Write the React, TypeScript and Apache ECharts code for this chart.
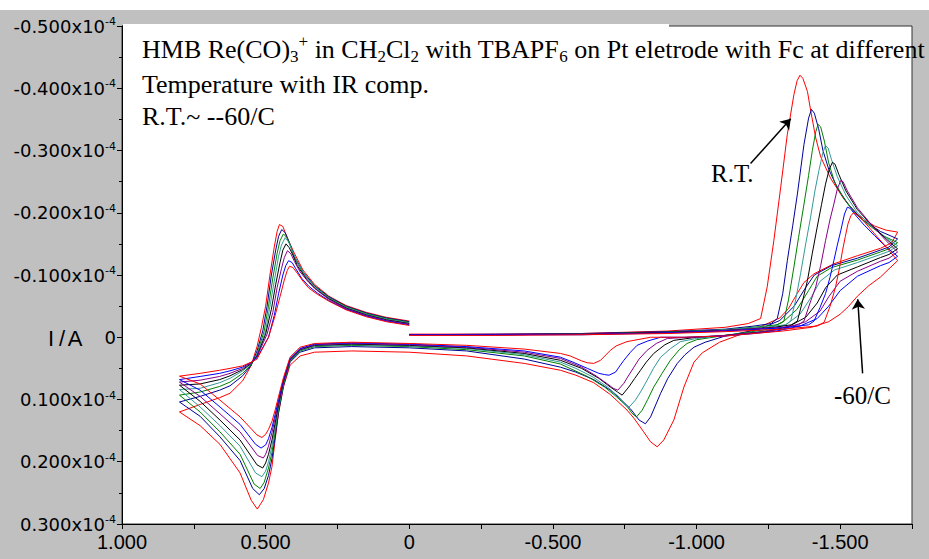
import React, { useEffect, useRef } from 'react';
import * as echarts from 'echarts';

type P = [number, number];

const curveNames = ['R.T.', 'T2', 'T3', 'T4', 'T5', 'T6', 'T7', '-60/C'];
const curveColors = ['#ff0000', '#000099', '#008000', '#339999', '#000000', '#880088', '#0000ff', '#ff0000'];

const xTickLabels: Record<string, string> = { '1': '1.000', '0.5': '0.500', '0': '0', '-0.5': '-0.500', '-1': '-1.000', '-1.5': '-1.500' };

const curveRT: P[] = [
  [0, -0.005], [-0.3, -0.005], [-0.6, -0.006], [-0.9, -0.01], [-1.1, -0.016], [-1.18, -0.022], [-1.223, -0.03], [-1.246, -0.081], [-1.269, -0.155], [-1.293, -0.241], [-1.316, -0.326], [-1.339, -0.39], [-1.35, -0.412], [-1.36, -0.421], [-1.37, -0.416], [-1.386, -0.395], [-1.397, -0.365], [-1.415, -0.32], [-1.432, -0.29], [-1.467, -0.255], [-1.513, -0.222], [-1.56, -0.197], [-1.618, -0.179], [-1.66, -0.172], [-1.7, -0.169],
  [-1.68, -0.152], [-1.641, -0.143], [-1.56, -0.131], [-1.478, -0.118], [-1.409, -0.102], [-1.374, -0.088], [-1.35, -0.07], [-1.32, -0.046], [-1.29, -0.031], [-1.223, -0.017], [-1.15, -0.004], [-1.08, 0.008], [-1.02, 0.025], [-0.991, 0.04], [-0.956, 0.08], [-0.921, 0.133], [-0.886, 0.165], [-0.863, 0.176], [-0.84, 0.168], [-0.816, 0.152], [-0.782, 0.13], [-0.758, 0.117], [-0.7, 0.092], [-0.642, 0.073], [-0.58, 0.061], [-0.526, 0.053], [-0.4, 0.042], [-0.2, 0.03], [0, 0.024], [0.2, 0.022], [0.33, 0.024], [0.38, 0.03], [0.415, 0.045], [0.438, 0.08], [0.455, 0.122], [0.467, 0.165], [0.478, 0.208], [0.49, 0.234], [0.508, 0.261], [0.529, 0.276], [0.55, 0.262], [0.589, 0.218], [0.659, 0.172], [0.728, 0.142], [0.8, 0.12],
  [0.728, 0.108], [0.66, 0.097], [0.624, 0.09], [0.58, 0.07], [0.55, 0.045], [0.53, 0.015], [0.515, -0.015], [0.5, -0.05], [0.485, -0.1], [0.47, -0.145], [0.46, -0.17], [0.452, -0.181], [0.44, -0.178], [0.425, -0.16], [0.4, -0.135], [0.37, -0.108], [0.33, -0.085], [0.28, -0.066], [0.22, -0.051], [0.15, -0.04], [0.08, -0.032], [0, -0.026],
];

const curveNavy: P[] = [
  [0, -0.004], [-0.3, -0.005], [-0.6, -0.006], [-0.9, -0.009], [-1.1, -0.013], [-1.2, -0.018], [-1.26, -0.022], [-1.281, -0.03], [-1.3, -0.07], [-1.316, -0.123], [-1.335, -0.18], [-1.351, -0.23], [-1.374, -0.31], [-1.39, -0.352], [-1.4, -0.366], [-1.41, -0.36], [-1.425, -0.335], [-1.44, -0.3], [-1.46, -0.27], [-1.49, -0.24], [-1.53, -0.212], [-1.58, -0.188], [-1.64, -0.17], [-1.7, -0.158],
  [-1.67, -0.145], [-1.64, -0.14], [-1.56, -0.127], [-1.47, -0.115], [-1.41, -0.1], [-1.38, -0.08], [-1.34, -0.05], [-1.29, -0.027], [-1.22, -0.013], [-1.1, -0.002], [-1.03, 0.008], [-0.991, 0.016], [-0.96, 0.028], [-0.933, 0.042], [-0.9, 0.066], [-0.875, 0.09], [-0.84, 0.128], [-0.822, 0.139], [-0.8, 0.133], [-0.77, 0.115], [-0.73, 0.097], [-0.7, 0.085], [-0.642, 0.068], [-0.58, 0.056], [-0.526, 0.048], [-0.4, 0.035], [-0.2, 0.022], [0, 0.017], [0.2, 0.015], [0.33, 0.017], [0.38, 0.024], [0.415, 0.04], [0.438, 0.078], [0.455, 0.12], [0.467, 0.16], [0.478, 0.195], [0.49, 0.222], [0.505, 0.243], [0.522, 0.253], [0.545, 0.243], [0.589, 0.198], [0.659, 0.16], [0.728, 0.127], [0.8, 0.104],
  [0.728, 0.095], [0.66, 0.085], [0.624, 0.078], [0.58, 0.062], [0.55, 0.045], [0.53, 0.022], [0.51, -0.01], [0.495, -0.05], [0.48, -0.1], [0.465, -0.14], [0.455, -0.162], [0.444, -0.173], [0.432, -0.168], [0.42, -0.155], [0.4, -0.13], [0.37, -0.105], [0.33, -0.083], [0.28, -0.065], [0.22, -0.05], [0.15, -0.039], [0.08, -0.031], [0, -0.025],
];

const curveGreen: P[] = [
  [0, -0.004], [-0.3, -0.004], [-0.6, -0.005], [-0.9, -0.008], [-1.1, -0.012], [-1.22, -0.017], [-1.28, -0.02], [-1.304, -0.026], [-1.32, -0.06], [-1.339, -0.113], [-1.355, -0.16], [-1.374, -0.214], [-1.39, -0.26], [-1.403, -0.3], [-1.415, -0.33], [-1.423, -0.342], [-1.432, -0.338], [-1.445, -0.315], [-1.46, -0.28], [-1.48, -0.25], [-1.51, -0.225], [-1.55, -0.2], [-1.6, -0.18], [-1.65, -0.163], [-1.7, -0.152],
  [-1.67, -0.142], [-1.64, -0.137], [-1.56, -0.124], [-1.47, -0.112], [-1.42, -0.098], [-1.39, -0.075], [-1.35, -0.045], [-1.3, -0.024], [-1.24, -0.012], [-1.1, -0.003], [-1.0, 0.004], [-0.967, 0.01], [-0.94, 0.02], [-0.909, 0.037], [-0.88, 0.058], [-0.851, 0.08], [-0.83, 0.1], [-0.811, 0.117], [-0.791, 0.128], [-0.775, 0.122], [-0.76, 0.112], [-0.72, 0.095], [-0.68, 0.08], [-0.62, 0.063], [-0.526, 0.043], [-0.4, 0.03], [-0.2, 0.02], [0, 0.015], [0.2, 0.013], [0.33, 0.015], [0.38, 0.022], [0.415, 0.038], [0.438, 0.076], [0.455, 0.116], [0.467, 0.152], [0.478, 0.185], [0.49, 0.21], [0.505, 0.233], [0.519, 0.243], [0.54, 0.236], [0.589, 0.188], [0.659, 0.152], [0.728, 0.12], [0.8, 0.093],
  [0.728, 0.088], [0.66, 0.079], [0.624, 0.072], [0.58, 0.058], [0.55, 0.044], [0.53, 0.027], [0.505, -0.01], [0.49, -0.05], [0.475, -0.095], [0.46, -0.135], [0.45, -0.155], [0.438, -0.166], [0.426, -0.16], [0.414, -0.148], [0.4, -0.128], [0.37, -0.103], [0.33, -0.082], [0.28, -0.064], [0.22, -0.049], [0.15, -0.038], [0.08, -0.03], [0, -0.024],
];

const curveTeal: P[] = [
  [0, -0.004], [-0.3, -0.004], [-0.6, -0.005], [-0.9, -0.008], [-1.1, -0.012], [-1.25, -0.017], [-1.31, -0.02], [-1.328, -0.026], [-1.345, -0.06], [-1.362, -0.102], [-1.38, -0.15], [-1.397, -0.193], [-1.412, -0.235], [-1.426, -0.268], [-1.44, -0.297], [-1.449, -0.308], [-1.458, -0.304], [-1.47, -0.285], [-1.49, -0.258], [-1.52, -0.228], [-1.56, -0.2], [-1.61, -0.178], [-1.66, -0.16], [-1.7, -0.147],
  [-1.67, -0.138], [-1.64, -0.133], [-1.56, -0.12], [-1.48, -0.108], [-1.43, -0.09], [-1.4, -0.065], [-1.36, -0.037], [-1.31, -0.02], [-1.24, -0.01], [-1.1, -0.003], [-1.0, 0.002], [-0.944, 0.007], [-0.91, 0.018], [-0.875, 0.032], [-0.85, 0.05], [-0.828, 0.069], [-0.805, 0.088], [-0.787, 0.101], [-0.764, 0.113], [-0.75, 0.108], [-0.73, 0.096], [-0.69, 0.08], [-0.64, 0.064], [-0.58, 0.05], [-0.526, 0.04], [-0.4, 0.028], [-0.2, 0.018], [0, 0.014], [0.2, 0.012], [0.33, 0.014], [0.38, 0.021], [0.415, 0.037], [0.438, 0.074], [0.455, 0.112], [0.467, 0.145], [0.478, 0.175], [0.49, 0.2], [0.5, 0.215], [0.513, 0.224], [0.535, 0.218], [0.589, 0.175], [0.659, 0.142], [0.728, 0.112], [0.8, 0.084],
  [0.728, 0.082], [0.66, 0.073], [0.624, 0.066], [0.58, 0.054], [0.55, 0.043], [0.53, 0.028], [0.5, -0.01], [0.485, -0.05], [0.47, -0.09], [0.455, -0.13], [0.445, -0.148], [0.432, -0.16], [0.42, -0.153], [0.408, -0.14], [0.39, -0.12], [0.36, -0.098], [0.33, -0.081], [0.28, -0.063], [0.22, -0.048], [0.15, -0.037], [0.08, -0.029], [0, -0.023],
];

const curveBlack: P[] = [
  [0, -0.004], [-0.3, -0.004], [-0.6, -0.005], [-0.9, -0.008], [-1.1, -0.011], [-1.27, -0.016], [-1.33, -0.02], [-1.351, -0.026], [-1.37, -0.06], [-1.386, -0.091], [-1.403, -0.135], [-1.42, -0.177], [-1.435, -0.213], [-1.449, -0.246], [-1.462, -0.27], [-1.473, -0.281], [-1.482, -0.278], [-1.495, -0.262], [-1.52, -0.235], [-1.56, -0.205], [-1.61, -0.18], [-1.66, -0.158], [-1.7, -0.142],
  [-1.67, -0.133], [-1.64, -0.128], [-1.56, -0.113], [-1.49, -0.1], [-1.45, -0.08], [-1.42, -0.055], [-1.38, -0.032], [-1.32, -0.017], [-1.24, -0.009], [-1.1, -0.003], [-1.0, 0.0], [-0.921, 0.005], [-0.89, 0.012], [-0.851, 0.026], [-0.825, 0.04], [-0.805, 0.053], [-0.785, 0.066], [-0.764, 0.08], [-0.741, 0.093], [-0.725, 0.088], [-0.7, 0.08], [-0.66, 0.066], [-0.6, 0.05], [-0.526, 0.037], [-0.4, 0.026], [-0.2, 0.017], [0, 0.013], [0.2, 0.011], [0.33, 0.013], [0.38, 0.02], [0.415, 0.036], [0.438, 0.072], [0.455, 0.108], [0.467, 0.138], [0.478, 0.165], [0.49, 0.188], [0.5, 0.202], [0.51, 0.21], [0.53, 0.205], [0.589, 0.165], [0.659, 0.133], [0.728, 0.103], [0.8, 0.077],
  [0.728, 0.075], [0.66, 0.068], [0.624, 0.062], [0.58, 0.052], [0.55, 0.042], [0.53, 0.03], [0.5, -0.005], [0.48, -0.045], [0.465, -0.085], [0.45, -0.12], [0.44, -0.14], [0.429, -0.15], [0.418, -0.144], [0.405, -0.132], [0.39, -0.115], [0.36, -0.095], [0.33, -0.079], [0.28, -0.062], [0.22, -0.047], [0.15, -0.036], [0.08, -0.028], [0, -0.022],
];

const curvePurple: P[] = [
  [0, -0.004], [-0.3, -0.004], [-0.6, -0.005], [-0.9, -0.007], [-1.1, -0.011], [-1.3, -0.016], [-1.355, -0.02], [-1.374, -0.026], [-1.395, -0.055], [-1.415, -0.081], [-1.432, -0.115], [-1.449, -0.155], [-1.465, -0.19], [-1.478, -0.214], [-1.49, -0.238], [-1.502, -0.252], [-1.51, -0.25], [-1.525, -0.235], [-1.56, -0.208], [-1.61, -0.18], [-1.66, -0.155], [-1.7, -0.137],
  [-1.67, -0.127], [-1.64, -0.122], [-1.56, -0.106], [-1.5, -0.09], [-1.46, -0.065], [-1.43, -0.042], [-1.38, -0.025], [-1.3, -0.013], [-1.2, -0.007], [-1.1, -0.003], [-0.98, 0.0], [-0.898, 0.002], [-0.86, 0.01], [-0.828, 0.021], [-0.8, 0.035], [-0.782, 0.048], [-0.76, 0.064], [-0.747, 0.074], [-0.726, 0.085], [-0.71, 0.082], [-0.69, 0.075], [-0.65, 0.062], [-0.6, 0.048], [-0.526, 0.034], [-0.4, 0.024], [-0.2, 0.016], [0, 0.012], [0.2, 0.01], [0.33, 0.012], [0.38, 0.019], [0.415, 0.035], [0.438, 0.07], [0.455, 0.104], [0.467, 0.13], [0.478, 0.153], [0.49, 0.175], [0.5, 0.188], [0.508, 0.194], [0.528, 0.19], [0.589, 0.152], [0.659, 0.123], [0.728, 0.095], [0.8, 0.072],
  [0.728, 0.069], [0.66, 0.063], [0.624, 0.058], [0.58, 0.05], [0.55, 0.041], [0.53, 0.031], [0.495, -0.005], [0.475, -0.04], [0.46, -0.08], [0.445, -0.11], [0.435, -0.128], [0.424, -0.139], [0.412, -0.134], [0.4, -0.122], [0.38, -0.105], [0.35, -0.088], [0.32, -0.075], [0.28, -0.061], [0.22, -0.046], [0.15, -0.035], [0.08, -0.027], [0, -0.021],
];

const curveBlue: P[] = [
  [0, -0.004], [-0.3, -0.004], [-0.6, -0.004], [-0.9, -0.007], [-1.1, -0.01], [-1.3, -0.015], [-1.39, -0.02], [-1.409, -0.026], [-1.43, -0.048], [-1.449, -0.07], [-1.465, -0.097], [-1.478, -0.123], [-1.49, -0.148], [-1.502, -0.171], [-1.515, -0.198], [-1.525, -0.209], [-1.535, -0.207], [-1.55, -0.198], [-1.58, -0.182], [-1.62, -0.163], [-1.66, -0.145], [-1.7, -0.13],
  [-1.67, -0.12], [-1.64, -0.115], [-1.56, -0.098], [-1.5, -0.075], [-1.46, -0.05], [-1.42, -0.03], [-1.36, -0.018], [-1.28, -0.01], [-1.2, -0.006], [-1.1, -0.002], [-0.96, 0.0], [-0.875, 0.0], [-0.83, 0.006], [-0.793, 0.013], [-0.77, 0.024], [-0.747, 0.037], [-0.73, 0.048], [-0.718, 0.056], [-0.695, 0.061], [-0.68, 0.06], [-0.66, 0.058], [-0.62, 0.05], [-0.57, 0.04], [-0.526, 0.032], [-0.4, 0.022], [-0.2, 0.015], [0, 0.011], [0.2, 0.009], [0.33, 0.011], [0.38, 0.018], [0.415, 0.034], [0.438, 0.068], [0.455, 0.1], [0.467, 0.124], [0.478, 0.145], [0.49, 0.163], [0.5, 0.173], [0.516, 0.178], [0.535, 0.172], [0.589, 0.14], [0.659, 0.112], [0.728, 0.085], [0.8, 0.068],
  [0.728, 0.063], [0.66, 0.058], [0.624, 0.054], [0.58, 0.048], [0.55, 0.04], [0.53, 0.033], [0.49, 0.0], [0.47, -0.035], [0.455, -0.07], [0.44, -0.1], [0.43, -0.115], [0.42, -0.123], [0.408, -0.12], [0.395, -0.11], [0.375, -0.095], [0.35, -0.082], [0.32, -0.071], [0.28, -0.059], [0.22, -0.045], [0.15, -0.034], [0.08, -0.026], [0, -0.02],
];

const curveCold: P[] = [
  [0, -0.003], [-0.3, -0.003], [-0.6, -0.004], [-0.9, -0.006], [-1.1, -0.009], [-1.3, -0.013], [-1.42, -0.018], [-1.444, -0.024], [-1.465, -0.05], [-1.484, -0.081], [-1.497, -0.11], [-1.508, -0.139], [-1.518, -0.162], [-1.527, -0.182], [-1.537, -0.195], [-1.546, -0.2], [-1.56, -0.196], [-1.583, -0.186], [-1.62, -0.166], [-1.66, -0.145], [-1.7, -0.123],
  [-1.67, -0.11], [-1.641, -0.097], [-1.6, -0.083], [-1.56, -0.066], [-1.53, -0.05], [-1.5, -0.037], [-1.46, -0.025], [-1.4, -0.016], [-1.3, -0.01], [-1.2, -0.006], [-1.1, -0.002], [-0.95, 0.0], [-0.84, 0.0], [-0.758, 0.007], [-0.72, 0.014], [-0.7, 0.021], [-0.666, 0.037], [-0.642, 0.042], [-0.62, 0.041], [-0.6, 0.038], [-0.56, 0.03], [-0.526, 0.026], [-0.4, 0.019], [-0.2, 0.013], [0, 0.01], [0.2, 0.008], [0.33, 0.01], [0.38, 0.016], [0.415, 0.032], [0.438, 0.065], [0.455, 0.095], [0.467, 0.117], [0.478, 0.135], [0.49, 0.148], [0.5, 0.156], [0.513, 0.161], [0.53, 0.157], [0.589, 0.128], [0.659, 0.101], [0.728, 0.075], [0.8, 0.0625],
  [0.728, 0.058], [0.66, 0.053], [0.624, 0.05], [0.58, 0.046], [0.55, 0.04], [0.53, 0.035], [0.49, 0.0], [0.47, -0.03], [0.45, -0.065], [0.435, -0.092], [0.425, -0.107], [0.417, -0.114], [0.405, -0.112], [0.39, -0.103], [0.37, -0.09], [0.35, -0.079], [0.32, -0.069], [0.28, -0.058], [0.22, -0.044], [0.15, -0.033], [0.08, -0.025], [0, -0.019],
];

const curves: P[][] = [curveRT, curveNavy, curveGreen, curveTeal, curveBlack, curvePurple, curveBlue, curveCold];

const arrowRT: P[] = [[-1.188, -0.279], [-1.328, -0.351]];
const arrowCold: P[] = [[-1.578, 0.058], [-1.561, -0.061]];

const serif = 'Liberation Serif, Times New Roman, serif';
const sans = 'Liberation Sans, Arial, sans-serif';

export default function App() {
  const ref = useRef<HTMLDivElement>(null);
  useEffect(() => {
    if (!ref.current) return;
    const chart = echarts.init(ref.current, undefined, { renderer: 'svg' });
    const series: any[] = curves.map((c, i) => ({
      name: curveNames[i],
      type: 'line',
      data: c,
      showSymbol: false,
      symbol: 'none',
      silent: true,
      lineStyle: { color: curveColors[i], width: 1 },
      itemStyle: { color: curveColors[i] },
      z: 3,
    }));
    series[0].markLine = {
      silent: true,
      symbol: ['none', 'arrow'],
      symbolSize: 10,
      label: { show: false },
      lineStyle: { color: '#000', width: 1.5, type: 'solid' },
      data: [
        [{ coord: arrowRT[0] }, { coord: arrowRT[1] }],
        [{ coord: arrowCold[0] }, { coord: arrowCold[1] }],
      ],
    };
    chart.setOption({
      animation: false,
      backgroundColor: '#c0c0c0',
      grid: { left: 122, right: 17, top: 26, bottom: 35, show: true, backgroundColor: '#ffffff', borderColor: '#333', borderWidth: 1 },
      xAxis: {
        type: 'value',
        min: -1.75,
        max: 1.0,
        interval: 0.25,
        inverse: true,
        axisLine: { show: true, onZero: false, lineStyle: { color: '#000' } },
        axisTick: { show: true, length: 5, lineStyle: { color: '#000' } },
        splitLine: { show: false },
        axisLabel: {
          margin: 8,
          color: '#000',
          fontFamily: sans,
          fontSize: 20,
          showMinLabel: true,
          showMaxLabel: true,
          formatter: (v: number) => {
            const k = String(Math.round(v * 100) / 100);
            return xTickLabels[k] ?? '';
          },
        },
      },
      yAxis: {
        type: 'value',
        min: -0.5,
        max: 0.3,
        interval: 0.1,
        inverse: true,
        axisLine: { show: true, onZero: false, lineStyle: { color: '#000' } },
        axisTick: { show: true, length: 5, lineStyle: { color: '#000' } },
        minorTick: { show: true, splitNumber: 2, length: 3, lineStyle: { color: '#000' } },
        splitLine: { show: false },
        axisLabel: {
          margin: 6,
          color: '#000',
          formatter: (v: number) => {
            if (Math.abs(v) < 1e-9) return '{b|0}';
            return '{b|' + v.toFixed(3) + 'x10}{sup|-4}';
          },
          rich: {
            b: { fontFamily: 'DejaVu Sans, sans-serif', fontSize: 18, lineHeight: 20, color: '#000' },
            sup: { fontFamily: 'DejaVu Sans, sans-serif', fontSize: 11, lineHeight: 11, verticalAlign: 'top', color: '#000' },
          },
        },
      },
      graphic: [
        { type: 'rect', shape: { x: 0, y: 0, width: 929, height: 10 }, style: { fill: '#ffffff' }, z: 100 },
        { type: 'rect', shape: { x: 123, y: 24, width: 546, height: 3 }, style: { fill: '#ffffff' }, z: 100 },
        {
          type: 'text', x: 142, y: 49, z: 100,
          style: {
            text: '{n|HMB Re(CO)}{sub|3}{sup|+}{n| in CH}{sub|2}{n|Cl}{sub|2}{n| with TBAPF}{sub|6}{n| on Pt eletrode with Fc at different}',
            verticalAlign: 'middle',
            rich: {
              n: { fontFamily: serif, fontSize: 26, lineHeight: 32, fill: '#000' },
              sub: { fontFamily: serif, fontSize: 17, lineHeight: 17, verticalAlign: 'bottom', fill: '#000' },
              sup: { fontFamily: serif, fontSize: 17, lineHeight: 17, verticalAlign: 'top', fill: '#000' },
            },
          },
        },
        { type: 'text', x: 142, y: 84, z: 100, style: { text: 'Temperature with IR comp.', fontFamily: serif, fontSize: 26, fill: '#000', verticalAlign: 'middle' } },
        { type: 'text', x: 142, y: 116, z: 100, style: { text: 'R.T.~ --60/C', fontFamily: serif, fontSize: 26, fill: '#000', verticalAlign: 'middle' } },
        { type: 'text', x: 711, y: 173, z: 100, style: { text: 'R.T.', fontFamily: serif, fontSize: 25, fill: '#000', verticalAlign: 'middle' } },
        { type: 'text', x: 834, y: 395, z: 100, style: { text: '-60/C', fontFamily: serif, fontSize: 25, fill: '#000', verticalAlign: 'middle' } },
        { type: 'text', x: 51, y: 338, z: 100, style: { text: 'I', fontFamily: sans, fontSize: 22, fill: '#000', align: 'center', verticalAlign: 'middle' } },
        { type: 'text', x: 62, y: 338, z: 100, style: { text: '/', fontFamily: sans, fontSize: 22, fill: '#000', align: 'center', verticalAlign: 'middle' } },
        { type: 'text', x: 75, y: 338, z: 100, style: { text: 'A', fontFamily: sans, fontSize: 22, fill: '#000', align: 'center', verticalAlign: 'middle' } },
      ],
      series,
    });
    return () => chart.dispose();
  }, []);
  return <div ref={ref} style={{ position: 'absolute', left: 0, top: 0, width: 929, height: 559 }} />;
}
